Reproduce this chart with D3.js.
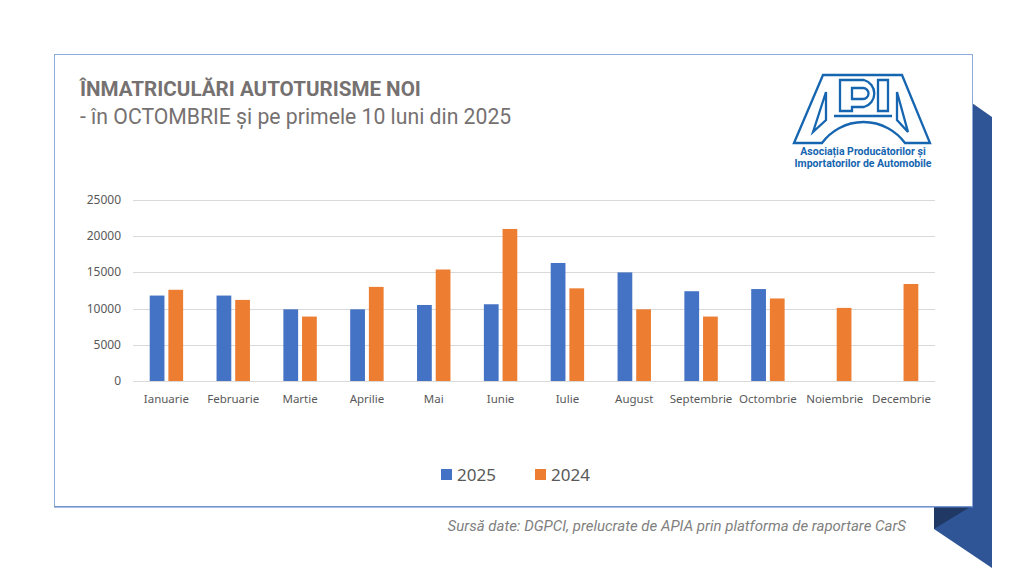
<!DOCTYPE html>
<html>
<head>
<meta charset="utf-8">
<script src="https://cdn.jsdelivr.net/npm/d3@7"></script>
<style>
   body { margin: 0; background: #fff; }
   svg { display: block; }
</style>
</head>
<body>
<div id="chart"></div>
<script>
// data
var months = ["Ianuarie", "Februarie", "Martie", "Aprilie", "Mai", "Iunie",
              "Iulie", "August", "Septembrie", "Octombrie", "Noiembrie", "Decembrie"];
var seriesNames = ["2025", "2024"];
var values2025 = [11800, 11800, 9900, 9900, 10500, 10600, 16300, 15000, 12400, 12700, null, null];
var values2024 = [12600, 11200, 8900, 13000, 15400, 21000, 12800, 9900, 8900, 11400, 10100, 13400];
var yTicks = [0, 5000, 10000, 15000, 20000, 25000];
var colors = ["#4472c4", "#ed7d31"];

var w = 1024, h = 576;

var svg = d3.select("#chart")
   .append("svg")
   .attr("width", w)
   .attr("height", h);

//Blue ribbon on the right side
svg.append("polygon")
   .attr("points", "972,103 992,117 992,568 934,529 934,507 972,507")
   .attr("fill", "#2f5597");
svg.append("polygon")
   .attr("points", "934,507 970,507 934,529")
   .attr("fill", "#203864");

//Frame
svg.append("rect")
   .attr("x", 54.5).attr("y", 54.5)
   .attr("width", 918).attr("height", 452)
   .attr("fill", "#fff")
   .attr("stroke", "#8eaadb")
   .attr("stroke-width", 1);
svg.append("line")
   .attr("x1", 54).attr("x2", 973)
   .attr("y1", 507).attr("y2", 507)
   .attr("stroke", "#5b7fc4");

//Titles
svg.append("text")
   .attr("x", 80).attr("y", 96)
   .attr("font-family", "Roboto")
   .attr("font-weight", "bold")
   .attr("font-size", 20.6)
   .attr("fill", "#767171")
   .text("ÎNMATRICULĂRI AUTOTURISME NOI");
svg.append("text")
   .attr("x", 80).attr("y", 124)
   .attr("font-family", "Roboto")
   .attr("font-size", 21.2)
   .attr("fill", "#767171")
   .text("- în OCTOMBRIE și pe primele 10 luni din 2025");

//Logo (approximation)
var logo = svg.append("g")
   .attr("transform", "translate(790,70)")
   .attr("fill", "none")
   .attr("stroke", "#1565b0")
   .attr("stroke-width", 2.3)
   .attr("stroke-linejoin", "miter");
logo.append("path")
   .attr("d", "M4,73 L33,5 L112,5 L140,73 L115,73 A51.5,51.5 0 0 0 32,73 Z");
logo.append("path")
   .attr("d", "M23,62 L36,22 L36,50 Z");
logo.append("path")
   .attr("d", "M118,62 L107,22 L107,50 Z");
logo.append("path")
   .attr("d", "M44,46 L102,46");
logo.append("path")
   .attr("d", "M50,10 L50,41 L62,41 L62,37 L74,37 A14,14 0 0 0 74,10 Z");
logo.append("path")
   .attr("d", "M62,18 L73,18 A5.5,5.5 0 0 1 73,29 L62,29 Z");
logo.append("path")
   .attr("d", "M88,10 L88,41 L98,41 L98,10 Z");
svg.append("text")
   .attr("x", 863).attr("y", 155)
   .attr("text-anchor", "middle")
   .attr("font-family", "Roboto")
   .attr("font-weight", "bold")
   .attr("font-size", 10.5)
   .attr("fill", "#1565b0")
   .text("Asociația Producătorilor și");
svg.append("text")
   .attr("x", 863).attr("y", 167)
   .attr("text-anchor", "middle")
   .attr("font-family", "Roboto")
   .attr("font-weight", "bold")
   .attr("font-size", 10.5)
   .attr("fill", "#1565b0")
   .text("Importatorilor de Automobile");

//Scales
var x0 = d3.scaleBand()
   .domain(months)
   .range([133, 935])
   .paddingInner(0.5)
   .paddingOuter(0.25);

var x1 = d3.scaleBand()
   .domain(seriesNames)
   .range([0, x0.bandwidth()])
   .paddingInner(0.21);

var yScale = d3.scaleLinear()
   .domain([0, 25000])
   .range([381, 200]);

//Gridlines
svg.selectAll(".grid")
   .data(yTicks)
   .enter()
   .append("line")
   .attr("class", "grid")
   .attr("x1", 133).attr("x2", 935)
   .attr("y1", function(d) { return Math.round(yScale(d)) + 0.5; })
   .attr("y2", function(d) { return Math.round(yScale(d)) + 0.5; })
   .attr("stroke", "#d9d9d9");

//Y axis labels
svg.selectAll(".ylab")
   .data(yTicks)
   .enter()
   .append("text")
   .attr("class", "ylab")
   .attr("x", 121)
   .attr("y", function(d) { return yScale(d) + 4; })
   .attr("text-anchor", "end")
   .attr("font-family", "Noto Sans")
   .attr("font-size", 12)
   .attr("fill", "#595959")
   .text(function(d) { return d; });

//Bars
var table = [values2025, values2024];
table.forEach(function(vals, s) {
   svg.selectAll(".bar" + s)
      .data(vals)
      .enter()
      .filter(function(d) { return d != null; })
      .append("rect")
      .attr("class", "bar" + s)
      .attr("x", function(d, i) { return x0(months[i]) + x1(seriesNames[s]); })
      .attr("y", function(d) { return yScale(d); })
      .attr("width", x1.bandwidth())
      .attr("height", function(d) { return yScale(0) - yScale(d); })
      .attr("fill", colors[s]);
});

//Category labels
svg.selectAll(".xlab")
   .data(months)
   .enter()
   .append("text")
   .attr("class", "xlab")
   .attr("x", function(d) { return x0(d) + x0.bandwidth() / 2; })
   .attr("y", 403)
   .attr("text-anchor", "middle")
   .attr("font-family", "Noto Sans")
   .attr("font-size", 11.5)
   .attr("fill", "#595959")
   .text(function(d) { return d; });

//Legend
var legendX = [441, 535];
seriesNames.forEach(function(name, i) {
   svg.append("rect")
      .attr("x", legendX[i]).attr("y", 469)
      .attr("width", 11).attr("height", 11)
      .attr("fill", colors[i]);
   svg.append("text")
      .attr("x", legendX[i] + 16).attr("y", 481)
      .attr("font-family", "Noto Sans")
      .attr("font-size", 17)
      .attr("fill", "#595959")
      .text(name);
});

//Source
svg.append("text")
   .attr("x", 906).attr("y", 531)
   .attr("text-anchor", "end")
   .attr("font-family", "Roboto")
   .attr("font-style", "italic")
   .attr("font-size", 15)
   .attr("fill", "#7f7f7f")
   .text("Sursă date: DGPCI, prelucrate de APIA prin platforma de raportare CarS");
</script>
</body>
</html>
